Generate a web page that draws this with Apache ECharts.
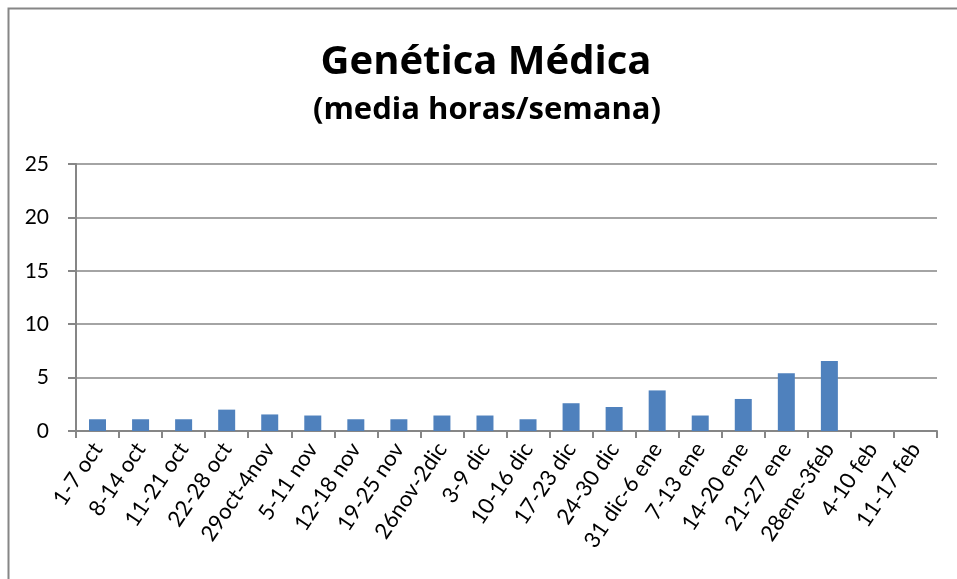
<!DOCTYPE html>
<html>
<head>
<meta charset="utf-8">
<script src="https://cdn.jsdelivr.net/npm/echarts@6/dist/echarts.min.js"></script>
<style>
  html, body { margin: 0; padding: 0; background: #fff; }
  #chart { width: 957px; height: 579px; }
</style>
</head>
<body>
<div id="chart"></div>
<script>
// semanas del curso
var weeks = ['1-7 oct', '8-14 oct', '11-21 oct', '22-28 oct', '29oct-4nov', '5-11 nov',
    '12-18 nov', '19-25 nov', '26nov-2dic', '3-9 dic', '10-16 dic', '17-23 dic',
    '24-30 dic', '31 dic-6 ene', '7-13 ene', '14-20 ene', '21-27 ene', '28ene-3feb',
    '4-10 feb', '11-17 feb'];
// media horas/semana
var hours = [1.1, 1.1, 1.1, 2.0, 1.55, 1.45, 1.1, 1.1, 1.45, 1.45, 1.1, 2.6,
    2.25, 3.8, 1.45, 3.0, 5.4, 6.55, 0, 0];
var yTicks = { min: 0, max: 25, interval: 5 };

var titleText = 'Genética Médica';
var subText = '(media horas/semana)';

var chart = echarts.init(document.getElementById('chart'));
var gray = '#868686';
var font = 'Lato, "Liberation Sans", sans-serif';
var titleFont = '"Open Sans", "Liberation Sans", sans-serif';

var option = {
    animation: false,
    backgroundColor: '#fff',
    graphic: [{
        type: 'rect',
        left: 6, top: 6,
        shape: { width: 1000, height: 1000 },
        style: { fill: 'none', stroke: gray, lineWidth: 2 },
        silent: true
    }, {
        // titulo algo desplazado a la derecha, como en el original
        type: 'text',
        x: 486, y: 43,
        style: {
            text: titleText, fill: '#000',
            font: 'bold 40px ' + titleFont,
            textAlign: 'center', textVerticalAlign: 'top'
        }
    }, {
        type: 'text',
        x: 487, y: 95,
        style: {
            text: subText, fill: '#000',
            font: 'bold 31px ' + titleFont,
            textAlign: 'center', textVerticalAlign: 'top'
        }
    }],
    grid: { left: 76, right: 20, top: 164, bottom: 148 },
    xAxis: {
        type: 'category',
        data: weeks,
        axisLine: { lineStyle: { color: gray, width: 2 } },
        axisTick: { show: true, length: 7, lineStyle: { color: gray, width: 2 } },
        axisLabel: {
            rotate: 56, interval: 0, margin: 14,
            fontFamily: font, fontSize: 22, color: '#000'
        }
    },
    yAxis: {
        type: 'value',
        min: yTicks.min, max: yTicks.max, interval: yTicks.interval,
        axisLine: { show: true, lineStyle: { color: gray, width: 2 } },
        axisTick: { show: true, inside: false, length: 8, lineStyle: { color: gray, width: 2 } },
        axisLabel: { fontFamily: font, fontSize: 21, color: '#000', margin: 27 },
        splitLine: { lineStyle: { color: gray, width: 1.5 } }
    },
    series: [{
        type: 'bar',
        data: hours,
        barWidth: 17,
        itemStyle: { color: '#4F81BD' }
    }]
};
chart.setOption(option);
</script>
</body>
</html>
